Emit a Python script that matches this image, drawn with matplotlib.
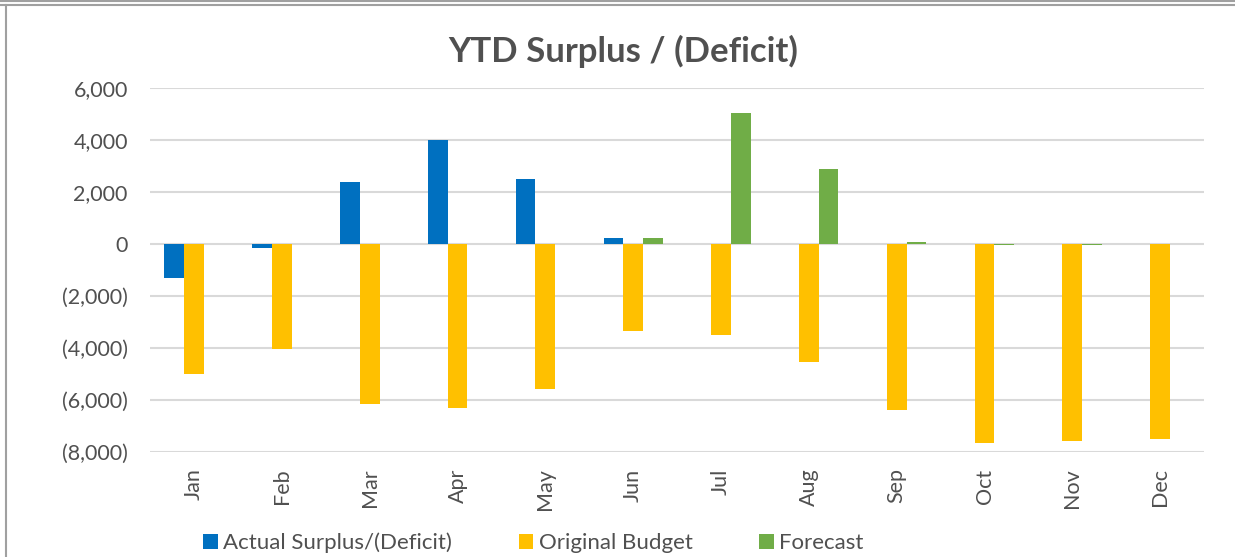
import matplotlib.pyplot as plt
import numpy as np
from matplotlib.lines import Line2D
from matplotlib.ticker import FuncFormatter

# Dati del grafico
mesi = ['Jan', 'Feb', 'Mar', 'Apr', 'May', 'Jun', 'Jul', 'Aug', 'Sep', 'Oct', 'Nov', 'Dec']
actual = [-1320, -160, 2400, 4000, 2500, 250, 0, 0, 0, 0, 0, 0]
budget = [-5000, -4050, -6150, -6300, -5600, -3350, -3500, -4550, -6400, -7650, -7600, -7500]
forecast = [0, 0, 0, 0, 0, 250, 5050, 2900, 80, -50, -30, 0]

plt.rcParams['font.family'] = ['Lato', 'DejaVu Sans']

fig = plt.figure(figsize=(12.35, 5.57), dpi=100)
ax = fig.add_axes([0.1215, 0.189, 0.8535, 0.6525])

x = np.arange(len(mesi))
w = 0.225
ax.bar(x - w, actual, w, color='#0070C0', label='Actual Surplus/(Deficit)', zorder=3)
ax.bar(x, budget, w, color='#FFC000', label='Original Budget', zorder=3)
ax.bar(x + w, forecast, w, color='#70AD47', label='Forecast', zorder=3)

ax.set_xlim(-0.5, len(mesi) - 0.5)
ax.set_ylim(-8000, 6000)
ax.set_yticks(range(-8000, 6001, 2000))

# formato numeri stile Excel: negativi tra parentesi
def fmt(v, pos):
    v = int(round(v))
    if v < 0:
        return "({:,})".format(-v)
    return "{:,}".format(v)

ax.yaxis.set_major_formatter(FuncFormatter(fmt))
ax.set_xticks(x)
ax.set_xticklabels(mesi, rotation=90)
ax.tick_params(axis='both', length=0, labelsize=15.5, colors='#505050')
ax.tick_params(axis='y', pad=16)
ax.tick_params(axis='x', pad=12)
ax.grid(axis='y', color='#d9d9d9', linewidth=1.5, zorder=0)
for s in ax.spines.values():
    s.set_visible(False)

fig.text(0.505, 0.908, 'YTD Surplus / (Deficit)', ha='center', va='center',
         fontsize=25, fontweight='bold', color='#505050')

fig.legend(loc='center', bbox_to_anchor=(0.432, 0.025), ncol=3, frameon=False,
           fontsize=16, handlelength=0.65, handleheight=0.65, handletextpad=0.25,
           columnspacing=3.0, labelcolor='#505050')

# bordi della cornice
fig.add_artist(Line2D([0, 1], [0.998, 0.998], color='#a0a0a0', lw=1.5, transform=fig.transFigure))
fig.add_artist(Line2D([0, 1], [0.991, 0.991], color='#a0a0a0', lw=1.5, transform=fig.transFigure))
fig.add_artist(Line2D([0.0045, 0.0045], [0, 0.991], color='#a0a0a0', lw=1.5, transform=fig.transFigure))

fig.savefig('out.png', dpi=100)
